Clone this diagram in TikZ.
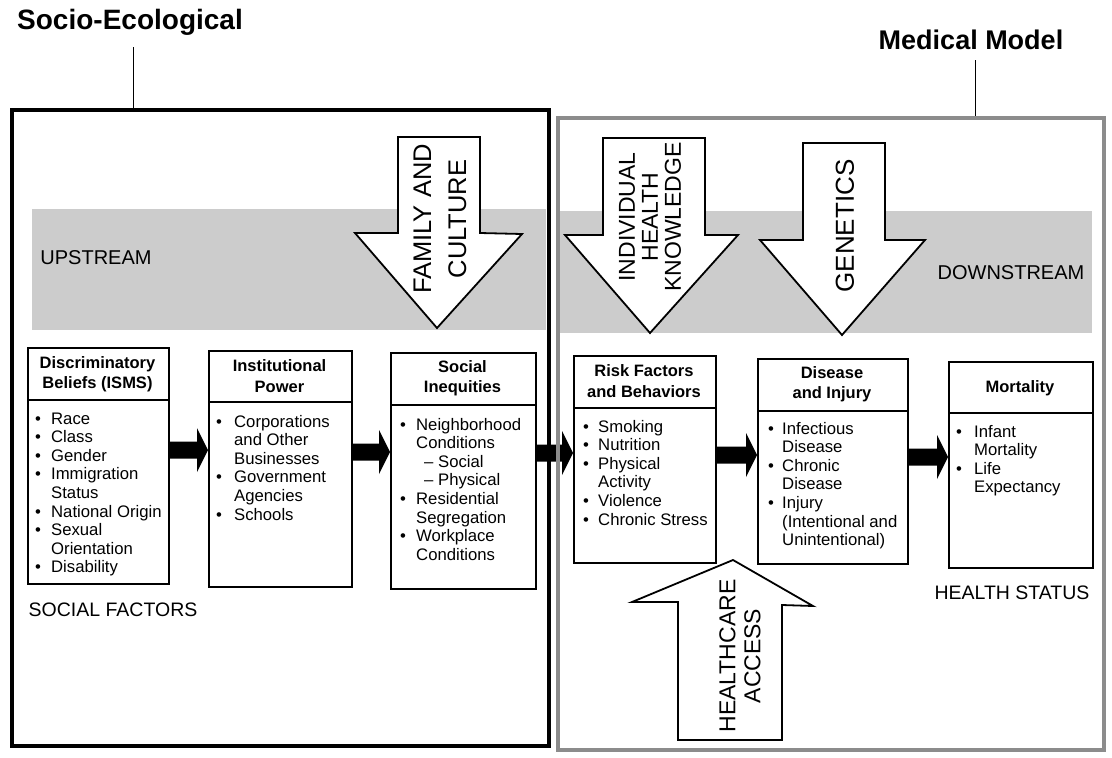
\documentclass[tikz,border=0pt]{standalone}
\usepackage{fontspec}
\setmainfont{Liberation Sans}
\usetikzlibrary{calc}
\newcommand\bitem[1]{\textbullet&#1\\}
\newcommand\bcont[1]{&#1\\}
\newcommand\blockarr[3]{%
 \fill ($(#1.east|-#3)+(-1,-8.5)$) -- ($(#2.west|-#3)+(-11,-8.5)$) -- ($(#2.west|-#3)+(-11,-22)$) -- (#2.west|-#3) -- ($(#2.west|-#3)+(-11,22)$) -- ($(#2.west|-#3)+(-11,8.5)$) -- ($(#1.east|-#3)+(-1,8.5)$) -- cycle;}
\tikzset{
 box/.style={draw, line width=1.5pt, anchor=north west, inner sep=0},
 hdr/.style={align=center, font=\bfseries\fontsize{16.5}{20.5}\selectfont, inner sep=0},
 body/.style={anchor=base west, inner sep=0, font=\fontsize{16.7}{18.6}\selectfont},
 bigarrow/.style={draw, line width=1.8pt, fill=white, line join=miter},
 bigtext/.style={rotate=90, align=center, inner sep=0},
 lbl/.style={inner sep=0, font=\fontsize{20}{22}\selectfont},
 title/.style={inner sep=0, font=\bfseries\fontsize{27}{30}\selectfont},
}
\begin{document}
\begin{tikzpicture}[x=1pt,y=-1pt]
\useasboundingbox (0,0) rectangle (1112,758);
\fill[white] (0,0) rectangle (1112,758);
% gray band
\fill[black!20] (32,209) rectangle (546,330);
\fill[black!20] (560,211) rectangle (1092,333);
% titles
\node[title, font=\bfseries\fontsize{28}{30}\selectfont] (t1) at (130,22) {Socio-Ecological};
\node[title] (t2) at (971,40) {Medical Model};
\coordinate (t1b) at (133,110);
\coordinate (t2b) at (975,118);
\draw[line width=0.9pt] (t1.south -| t1b) ++(0,12) -- (t1b);
\draw[line width=0.9pt] (t2.south -| t2b) ++(0,10) -- (t2b);
% labels
\node[lbl] (up) at (96,258) {UPSTREAM};
\node[lbl] (down) at (1011,273) {DOWNSTREAM};
\node[lbl, font=\fontsize{19.5}{22}\selectfont] (sf) at (113,610) {SOCIAL FACTORS};
\node[lbl, font=\fontsize{19.5}{22}\selectfont] (hs) at (1012,593) {HEALTH STATUS};
% big arrows
\draw[bigarrow] (398,137) -- (480,137) -- (480,233) -- (522,234) -- (437,328) -- (355,233) -- (398,233) -- cycle;
\node[bigtext, font=\fontsize{25.5}{35}\selectfont] (fam) at (440,219) {FAMILY AND\\CULTURE};
\draw[bigarrow] (603,138) -- (705,138) -- (705,235) -- (738,235) -- (650,333) -- (565,235) -- (603,235) -- cycle;
\node[bigtext, font=\fontsize{23}{23}\selectfont] (ihk) at (650,217) {INDIVIDUAL\\HEALTH\\KNOWLEDGE};
\draw[bigarrow] (803,143) -- (885,143) -- (885,240) -- (925,240) -- (842,335) -- (760,240) -- (803,240) -- cycle;
\node[bigtext, font=\fontsize{26}{30}\selectfont] (gen) at (845,226) {GENETICS};
\draw[bigarrow] (678,740) -- (782,740) -- (782,605) -- (813,606) -- (733,560) -- (632,602) -- (678,602) -- cycle;
\node[bigtext, font=\fontsize{23}{25}\selectfont] (hca) at (740,656) {HEALTHCARE\\ACCESS};
% boxes
\node[box, minimum width=141, minimum height=236] (b1) at (27,347) {};
\draw[line width=1.5pt] (27,400) -- (168,400);
\node[hdr] (h1) at (97.5,374) {Discriminatory\\Beliefs (ISMS)};
\node[body] (l1) at (35,424) {\begin{tabular}[t]{@{}p{16pt}@{}l@{}}
\bitem{Race}\bitem{Class}\bitem{Gender}\bitem{Immigration}\bcont{Status}\bitem{National Origin}\bitem{Sexual}\bcont{Orientation}\bitem{Disability}\end{tabular}};

\node[box, minimum width=143, minimum height=236] (b2) at (208,350) {};
\draw[line width=1.5pt] (208,402) -- (351,402);
\node[hdr] (h2) at (279.5,376) {Institutional\\Power};
\node[body] (l2) at (216,427) {\begin{tabular}[t]{@{}p{18pt}@{}l@{}}
\bitem{Corporations}\bcont{and Other}\bcont{Businesses}\bitem{Government}\bcont{Agencies}\bitem{Schools}\end{tabular}};

\node[box, minimum width=145, minimum height=236] (b3) at (390,352) {};
\draw[line width=1.5pt] (390,405) -- (535,405);
\node[hdr] (h3) at (462.5,378) {Social\\Inequities};
\node[body] (l3) at (400,430) {\begin{tabular}[t]{@{}p{16pt}@{}l@{}}
\bitem{Neighborhood}\bcont{Conditions}\bcont{\hspace{8pt}– Social}\bcont{\hspace{8pt}– Physical}\bitem{Residential}\bcont{Segregation}\bitem{Workplace}\bcont{Conditions}\end{tabular}};

\node[box, minimum width=142, minimum height=207] (b4) at (573,355) {};
\draw[line width=1.5pt] (573,408) -- (715,408);
\node[hdr] (h4) at (644,381) {Risk Factors\\and Behaviors};
\node[body] (l4) at (583,432) {\begin{tabular}[t]{@{}p{15pt}@{}l@{}}
\bitem{Smoking}\bitem{Nutrition}\bitem{Physical}\bcont{Activity}\bitem{Violence}\bitem{Chronic Stress}\end{tabular}};

\node[box, minimum width=150, minimum height=205] (b5) at (757,358) {};
\draw[line width=1.5pt] (757,411) -- (907,411);
\node[hdr] (h5) at (832,384) {Disease\\and Injury};
\node[body] (l5) at (768,434) {\begin{tabular}[t]{@{}p{14pt}@{}l@{}}
\bitem{Infectious}\bcont{Disease}\bitem{Chronic}\bcont{Disease}\bitem{Injury}\bcont{(Intentional and}\bcont{Unintentional)}\end{tabular}};

\node[box, minimum width=144, minimum height=206] (b6) at (948,361) {};
\draw[line width=1.5pt] (948,413) -- (1092,413);
\node[hdr] (h6) at (1020,388) {Mortality};
\node[body] (l6) at (956,437) {\begin{tabular}[t]{@{}p{18pt}@{}l@{}}
\bitem{Infant}\bcont{Mortality}\bitem{Life}\bcont{Expectancy}\end{tabular}};

% block arrows
\coordinate (ya) at (0,450);
\coordinate (yb) at (0,452);
\coordinate (yc) at (0,453);
\coordinate (yd) at (0,455);
\coordinate (ye) at (0,457);
\blockarr{b1}{b2}{ya}
\blockarr{b2}{b3}{yb}
\blockarr{b3}{b4}{yc}
\blockarr{b4}{b5}{yd}
\blockarr{b5}{b6}{ye}
% big frames
\draw[line width=4pt] (12,110) rectangle (549,746);
\draw[line width=4pt, black!45] (558,118) rectangle (1104,750);
\end{tikzpicture}
\end{document}
